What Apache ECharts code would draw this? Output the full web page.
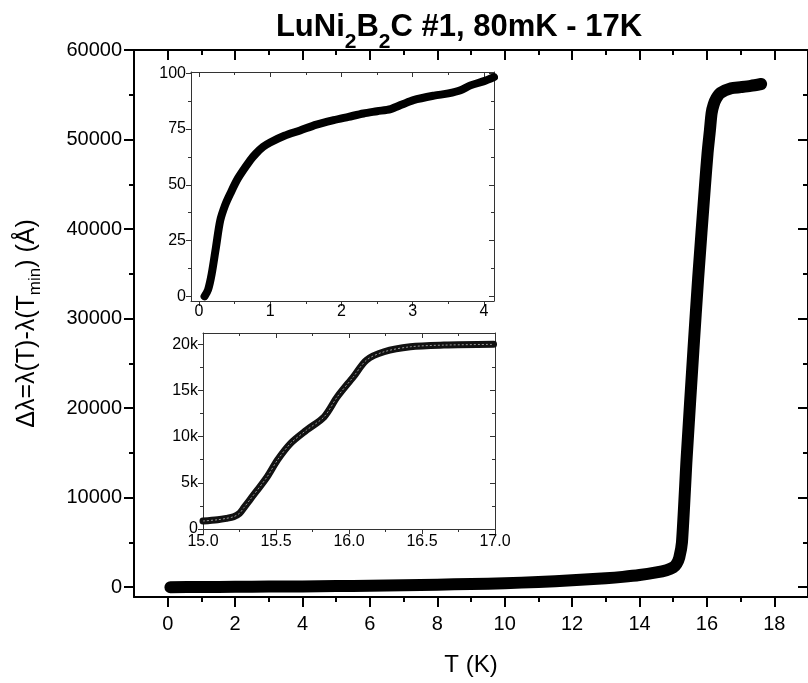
<!DOCTYPE html>
<html>
<head>
<meta charset="utf-8">
<title>LuNi2B2C #1, 80mK - 17K</title>
<script src="https://cdn.jsdelivr.net/npm/echarts@6/dist/echarts.min.js"></script>
<style>
  html, body { margin: 0; padding: 0; background: #fff; }
  #main { width: 808px; height: 683px; }
</style>
</head>
<body>
<div id="main"></div>
<script type="text/javascript">
// main panel: whole sweep, T (K) vs delta lambda (A)
var mainT  = [0.08, 1, 2, 3, 4, 5, 6, 7, 8, 9, 10, 11, 12, 13, 13.5, 14, 14.5, 14.8, 15.0, 15.1, 15.18, 15.26,
              15.4, 15.6, 15.74, 15.94, 16.02, 16.09, 16.14, 16.2, 16.28, 16.4, 16.72, 17.0, 17.3, 17.61];
var mainDL = [0, 20, 40, 60, 85, 120, 160, 210, 280, 350, 440, 580, 760, 1000, 1150, 1350, 1650, 1900, 2200, 2600, 3300, 5000,
              14500, 26500, 34500, 44700, 48500, 51060, 52960, 53900, 54600, 55200, 55720, 55850, 56000, 56200];

// upper inset: 0 - 4 K
var lowT  = [0.08, 0.13, 0.18, 0.24, 0.3, 0.37, 0.44, 0.55, 0.72, 0.8, 0.9, 1.0, 1.2, 1.42, 1.65, 1.89, 2.1, 2.31,
             2.5, 2.69, 2.85, 3.01, 3.3, 3.5, 3.67, 3.81, 4.0, 4.14];
var lowDL = [0, 3, 10, 22, 34, 41, 46, 53, 61, 64, 67, 69, 72, 74.4, 77, 79, 80.5, 82,
             83, 84, 86, 88, 90, 91, 92.4, 94.6, 96.5, 98.3];

// lower inset: transition 15 - 17 K
var highT  = [15.0, 15.1, 15.16, 15.21, 15.25, 15.28, 15.32, 15.44, 15.51, 15.6, 15.71, 15.83, 15.92, 16.03, 16.12, 16.24,
              16.42, 16.65, 16.99];
var highDL = [865, 1000, 1150, 1330, 1700, 2300, 3130, 5660, 7460, 9260, 10700, 12140, 14300, 16460, 18270, 19170,
              19710, 19890, 19970];

// tick values
var mainXTicks = [0, 2, 4, 6, 8, 10, 12, 14, 16, 18];
var mainXMinor = [1, 3, 5, 7, 9, 11, 13, 15, 17];
var mainYTicks = [0, 10000, 20000, 30000, 40000, 50000, 60000];
var mainYMinor = [5000, 15000, 25000, 35000, 45000, 55000];
var lowXTicks = [0, 1, 2, 3, 4];
var lowXMinor = [0.5, 1.5, 2.5, 3.5];
var lowYTicks = [0, 25, 50, 75, 100];
var lowYMinor = [12.5, 37.5, 62.5, 87.5];
var highXTicks = [15, 15.5, 16, 16.5, 17];
var highXMinor = [15.25, 15.75, 16.25, 16.75];
var highYTicks = [0, 5000, 10000, 15000, 20000];
var highYMinor = [2500, 7500, 12500, 17500];

var FONT = '"Liberation Sans", Arial, sans-serif';
var myChart = echarts.init(document.getElementById('main'));

function zip(a, b) {
    return a.map(function (v, i) { return [v, b[i]]; });
}

// major + minor ticks on the labelled side, mirrored (inside) on the opposite side
function axes(dim, grid, min, max, major, minor, st) {
    var pos = dim === 'x' ? ['bottom', 'top'] : ['left', 'right'];
    var list = [];
    [0, 1].forEach(function (side) {
        [major, minor].forEach(function (vals, k) {
            list.push({
                type: 'value', gridIndex: grid, position: pos[side], min: min, max: max,
                axisLine: { show: k === 0, onZero: false, lineStyle: { color: st.color, width: st.lw } },
                axisTick: { show: true, inside: side === 1, customValues: vals,
                            length: k === 0 ? st.major : st.minor,
                            lineStyle: { color: st.color, width: st.lw } },
                axisLabel: { show: side === 0 && k === 0, customValues: vals, margin: st.margin,
                             color: '#000', fontFamily: FONT, fontSize: st.fs, formatter: st.fmt },
                splitLine: { show: false }
            });
        });
    });
    return list;
}

var plain = function (v) { return String(v); };
var mainStyle = { color: '#000', lw: 2, major: 10, minor: 5, fs: 20, margin: 12, fmt: plain };
var insetStyle = { color: '#333', lw: 1, major: 5, minor: 3, fs: 16, margin: 5, fmt: plain };

var xAxes = [].concat(
    axes('x', 0, -1, 19, mainXTicks, mainXMinor, Object.assign({}, mainStyle, { margin: 17 })),
    axes('x', 1, -0.11, 4.14, lowXTicks, lowXMinor, Object.assign({}, insetStyle, { margin: 3 })),
    axes('x', 2, 15, 17, highXTicks, highXMinor,
         Object.assign({}, insetStyle, { fmt: function (v) { return v.toFixed(1); } }))
);
var yAxes = [].concat(
    axes('y', 0, -1100, 60000, mainYTicks, mainYMinor, mainStyle),
    axes('y', 1, -2.1, 100.6, lowYTicks, lowYMinor, insetStyle),
    axes('y', 2, 0, 21200, highYTicks, highYMinor,
         Object.assign({}, insetStyle, { fmt: function (v) { return v === 0 ? '0' : (v / 1000) + 'k'; } }))
);

xAxes[0].name = 'T (K)';
xAxes[0].nameLocation = 'middle';
xAxes[0].nameGap = 56;
xAxes[0].nameTextStyle = { fontFamily: FONT, fontSize: 24, color: '#000' };

yAxes[0].name = '{n|\u0394\u03bb=\u03bb(T)-\u03bb(T}{s|min}{n|) (\u00c5)}';
yAxes[0].nameLocation = 'middle';
yAxes[0].nameGap = 90;
yAxes[0].nameTextStyle = {
    color: '#000',
    rich: {
        n: { fontFamily: FONT, fontSize: 25, color: '#000' },
        s: { fontFamily: FONT, fontSize: 17, color: '#000', padding: [16, 0, 0, 0] }
    }
};

var option = {
    animation: false,
    backgroundColor: '#fff',
    title: {
        text: '{a|LuNi}{s|2}{a|B}{s|2}{a|C #1, 80mK - 17K}',
        left: 454,
        top: -3,
        textAlign: 'center',
        textStyle: {
            rich: {
                a: { fontFamily: FONT, fontWeight: 'bold', fontSize: 31, color: '#000' },
                s: { fontFamily: FONT, fontWeight: 'bold', fontSize: 21, color: '#000', padding: [30, 0, 0, 0] }
            }
        }
    },
    grid: [
        { left: 134, top: 50, width: 680, height: 547 },
        { left: 191, top: 72, width: 303, height: 229, show: true, backgroundColor: '#fff', borderWidth: 0 },
        { left: 203, top: 333, width: 292, height: 196, show: true, backgroundColor: '#fff', borderWidth: 0 }
    ],
    xAxis: xAxes,
    yAxis: yAxes,
    series: [
        {
            type: 'line', xAxisIndex: 0, yAxisIndex: 0, data: zip(mainT, mainDL),
            showSymbol: false, smooth: 0.25,
            lineStyle: { color: '#000', width: 12, cap: 'round', join: 'round' }
        },
        {
            type: 'line', xAxisIndex: 4, yAxisIndex: 4, data: zip(lowT, lowDL),
            showSymbol: false, smooth: 0.3,
            lineStyle: { color: '#000', width: 8, cap: 'round', join: 'round' }
        },
        {
            type: 'line', xAxisIndex: 8, yAxisIndex: 8, data: zip(highT, highDL),
            showSymbol: false, smooth: 0.3,
            lineStyle: { color: '#111', width: 7, cap: 'round', join: 'round' }
        },
        {
            type: 'line', xAxisIndex: 8, yAxisIndex: 8, data: zip(highT, highDL),
            showSymbol: false, smooth: 0.3,
            lineStyle: { color: '#999', width: 1, type: [2, 2] }
        }
    ]
};

if (option && typeof option === 'object') {
    myChart.setOption(option);
}
</script>
</body>
</html>
